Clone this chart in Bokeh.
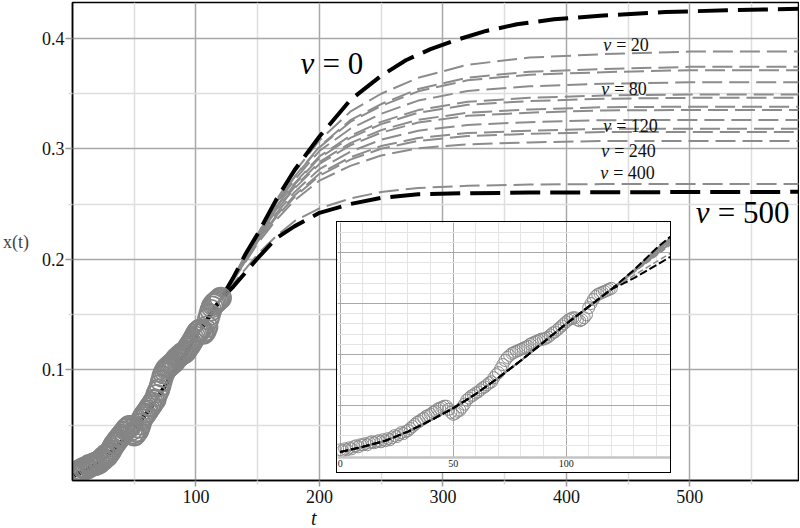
from bokeh.plotting import figure
from bokeh.models import FixedTicker, GridBox, Range1d, ColumnDataSource, Div, Column
from bokeh.core.properties import value
from bokeh.embed import file_html
from bokeh.resources import INLINE

# ---------------- data ----------------
# observations x(t), t = 0..120
OBS_T = list(range(121))
OBS_X = [
    0.006, 0.005, 0.007, 0.006, 0.008, 0.007, 0.009, 0.010, 0.009, 0.011,
    0.011, 0.012, 0.011, 0.013, 0.014, 0.013, 0.014, 0.015, 0.014, 0.016,
    0.015, 0.017, 0.016, 0.018, 0.020, 0.019, 0.021, 0.023, 0.022, 0.024,
    0.025, 0.027, 0.029, 0.031, 0.033, 0.034, 0.036, 0.037, 0.039, 0.040,
    0.041, 0.043, 0.044, 0.046, 0.047, 0.048, 0.049, 0.049, 0.046, 0.043,
    0.041, 0.042, 0.044, 0.045, 0.048, 0.051, 0.055, 0.057, 0.059, 0.060,
    0.062, 0.063, 0.065, 0.067, 0.068, 0.070, 0.072, 0.073, 0.077, 0.080,
    0.082, 0.086, 0.090, 0.094, 0.097, 0.099, 0.101, 0.102, 0.103, 0.104,
    0.105, 0.106, 0.107, 0.108, 0.110, 0.111, 0.112, 0.113, 0.114, 0.115,
    0.115, 0.116, 0.117, 0.119, 0.121, 0.122, 0.124, 0.126, 0.128, 0.130,
    0.132, 0.134, 0.135, 0.136, 0.136, 0.134, 0.133, 0.134, 0.136, 0.139,
    0.146, 0.150, 0.154, 0.157, 0.159, 0.160, 0.161, 0.162, 0.163, 0.164,
    0.165,
]

# fitted part, common to all curves
FIT_T = [0, 10, 20, 30, 40, 50, 60, 70, 80, 90, 100, 110, 120]
FIT_X = [0.004, 0.009, 0.015, 0.024, 0.035, 0.047, 0.061, 0.077, 0.094,
         0.112, 0.130, 0.147, 0.164]

# prediction for nu = 0 after t = 120 (read more densely: strongest bend)
PRED_T_NU0 = [130, 140, 150, 165, 180, 200, 225, 250, 270, 290, 310, 335,
              360, 390, 430, 480, 530, 590]
X_NU0 = [0.1830, 0.2045, 0.2230, 0.2540, 0.2810, 0.3110, 0.3440, 0.3660,
         0.3800, 0.3900, 0.3980, 0.4065, 0.4125, 0.4170, 0.4205, 0.4235,
         0.4252, 0.4265]

# predictions for the other nu after t = 120
PRED_T = [130, 140, 150, 165, 180, 200, 225, 250, 280, 320, 370, 430, 500, 590]
X_NU20 = [0.1828, 0.2040, 0.2225, 0.2535, 0.2790, 0.3075, 0.3335, 0.3497,
          0.3641, 0.3759, 0.3824, 0.3855, 0.3878, 0.3880]
X_NU40 = [0.1828, 0.2032, 0.2222, 0.2514, 0.2749, 0.3019, 0.3258, 0.3404,
          0.3539, 0.3643, 0.3696, 0.3720, 0.3740, 0.3740]
X_NU60 = [0.1827, 0.2030, 0.2220, 0.2512, 0.2744, 0.3012, 0.3242, 0.3387,
          0.3519, 0.3619, 0.3668, 0.3692, 0.3710, 0.3710]
X_NU80 = [0.1826, 0.2027, 0.2218, 0.2498, 0.2720, 0.2980, 0.3181, 0.3316,
          0.3435, 0.3522, 0.3564, 0.3587, 0.3600, 0.3600]
X_NU100 = [0.1826, 0.2018, 0.2212, 0.2477, 0.2689, 0.2931, 0.3117, 0.3243,
           0.3349, 0.3424, 0.3460, 0.3481, 0.3490, 0.3490]
X_NU120 = [0.1825, 0.2016, 0.2208, 0.2469, 0.2679, 0.2917, 0.3098, 0.3222,
           0.3325, 0.3397, 0.3431, 0.3452, 0.3460, 0.3460]
X_NU140 = [0.1824, 0.2009, 0.2200, 0.2450, 0.2655, 0.2879, 0.3051, 0.3168,
           0.3262, 0.3325, 0.3355, 0.3375, 0.3380, 0.3380]
X_NU160 = [0.1823, 0.2005, 0.2194, 0.2441, 0.2643, 0.2862, 0.3031, 0.3145,
           0.3237, 0.3297, 0.3326, 0.3346, 0.3350, 0.3350]
X_NU180 = [0.1818, 0.1995, 0.2180, 0.2415, 0.2609, 0.2815, 0.2973, 0.3081,
           0.3163, 0.3215, 0.3240, 0.3258, 0.3260, 0.3260]
X_NU200 = [0.1815, 0.1987, 0.2168, 0.2393, 0.2580, 0.2774, 0.2922, 0.3024,
           0.3097, 0.3142, 0.3163, 0.3180, 0.3180, 0.3180]
X_NU240 = [0.1812, 0.1982, 0.2161, 0.2382, 0.2566, 0.2756, 0.2901, 0.3000,
           0.3071, 0.3114, 0.3134, 0.3150, 0.3150, 0.3150]
X_NU320 = [0.1808, 0.1973, 0.2145, 0.2357, 0.2534, 0.2712, 0.2845, 0.2939,
           0.3004, 0.3040, 0.3057, 0.3070, 0.3070, 0.3070]
X_NU400 = [0.1778, 0.1912, 0.2046, 0.2210, 0.2347, 0.2461, 0.2550, 0.2609,
           0.2645, 0.2664, 0.2676, 0.2680, 0.2680, 0.2680]
X_NU500 = [0.1750, 0.1880, 0.2010, 0.2190, 0.2300, 0.2420, 0.2500, 0.2555,
           0.2588, 0.2598, 0.2603, 0.2606, 0.2608, 0.2610]

GREY_CURVES = [X_NU20, X_NU40, X_NU60, X_NU80, X_NU100, X_NU120, X_NU140,
               X_NU160, X_NU180, X_NU200, X_NU240, X_NU320, X_NU400]

# axis ticks
X_TICKS = [100, 200, 300, 400, 500]
X_MINOR = [50, 150, 250, 350, 450, 550]
Y_TICKS = [0.1, 0.2, 0.3, 0.4]
Y_MINOR = [0.05, 0.15, 0.25, 0.35]
IN_X_TICKS = [0, 50, 100]
IN_X_MINOR = [10, 20, 30, 40, 60, 70, 80, 90, 110, 120, 130, 140]
IN_Y_TICKS = [0.05, 0.10, 0.15, 0.20]
IN_Y_MINOR = [0.01, 0.02, 0.03, 0.04, 0.06, 0.07, 0.08, 0.09, 0.11, 0.12,
              0.13, 0.14, 0.16, 0.17, 0.18, 0.19, 0.21, 0.22]

# curve labels
SMALL_LABEL_T = [429.8, 428.2, 429.8, 428.2, 427.4]
SMALL_LABEL_X = [0.394, 0.354, 0.3205, 0.2975, 0.2776]
SMALL_LABEL_TEXT = ["= 20", "= 80", "= 120", "= 240", "= 400"]
BIG_LABEL_T = [184.7, 504.8]
BIG_LABEL_X = [0.377, 0.2423]
BIG_LABEL_TEXT = ["= 0", "= 500"]

SERIF = "Liberation Serif"
curve_t = FIT_T + PRED_T
curve_t0 = FIT_T + PRED_T_NU0


def draw_curves(fig, grey_w, grey_dash, grey_step, black_w, black_dash):
    for i, xs in enumerate(GREY_CURVES):
        fig.line(curve_t, FIT_X + xs, line_color="#8c8c8c", line_width=grey_w,
                 line_dash=grey_dash, line_dash_offset=(i * grey_step) % (3 * grey_step))
    fig.line(curve_t0, FIT_X + X_NU0, line_color="black", line_width=black_w,
             line_dash=black_dash)
    fig.line(curve_t, FIT_X + X_NU500, line_color="black", line_width=black_w,
             line_dash=black_dash)


# ---------------- main figure ----------------
p = figure(width=799, height=526, output_backend="svg", toolbar_location=None,
           x_range=Range1d(0, 588), y_range=Range1d(0, 0.4322),
           min_border_left=69, min_border_right=1, min_border_top=2,
           min_border_bottom=46)
p.background_fill_color = "white"
p.border_fill_color = "white"
p.outline_line_color = "black"
p.outline_line_width = 1.5

p.xaxis.ticker = FixedTicker(ticks=X_TICKS, minor_ticks=X_MINOR)
p.yaxis.ticker = FixedTicker(ticks=Y_TICKS, minor_ticks=Y_MINOR)
for ax in (p.xaxis[0], p.yaxis[0]):
    ax.axis_line_color = "black"
    ax.axis_line_width = 1.5
    ax.major_tick_line_color = "#9a9a9a"
    ax.major_tick_line_width = 1.5
    ax.major_tick_in = 0
    ax.minor_tick_line_color = "#d8d8d8"
    ax.minor_tick_line_width = 1.5
    ax.minor_tick_in = 0
    ax.major_label_text_font = SERIF
    ax.major_label_text_font_size = "18px"
    ax.major_label_text_color = "#111111"
p.xaxis.major_tick_out = 6
p.xaxis.minor_tick_out = 4
p.xaxis.major_label_standoff = 3
p.yaxis.major_tick_out = 7
p.yaxis.minor_tick_out = 4
p.yaxis.major_label_standoff = 1
p.yaxis.axis_label = "x(t)"
p.yaxis.axis_label_orientation = "horizontal"
p.yaxis.axis_label_text_font = SERIF
p.yaxis.axis_label_text_font_style = "normal"
p.yaxis.axis_label_text_font_size = "18px"
p.yaxis.axis_label_standoff = 10

p.xgrid.grid_line_color = "#a8a8a8"
p.ygrid.grid_line_color = "#a8a8a8"
p.xgrid.grid_line_width = 1.5
p.ygrid.grid_line_width = 1.5
p.xgrid.minor_grid_line_color = "#dedede"
p.ygrid.minor_grid_line_color = "#dedede"
p.xgrid.minor_grid_line_width = 1.5
p.ygrid.minor_grid_line_width = 1.5

draw_curves(p, 2, "20 7", 9, 4, "30 10")

p.scatter(OBS_T, OBS_X, marker="circle", size=21, fill_color=None,
          line_color="#858585", line_width=1.6)

small_src = ColumnDataSource(dict(t=SMALL_LABEL_T, x=SMALL_LABEL_X,
                                  nu=["ν"] * len(SMALL_LABEL_T),
                                  txt=SMALL_LABEL_TEXT))
p.text(x="t", y="x", text="nu", source=small_src, text_font=value(SERIF),
       text_font_style="italic", text_font_size="18px", text_align="left",
       text_baseline="middle", text_color="#111111")
p.text(x="t", y="x", text="txt", source=small_src, text_font=value(SERIF),
       text_font_size="18px", text_align="left", text_baseline="middle",
       x_offset=13, text_color="#111111")

big_src = ColumnDataSource(dict(t=BIG_LABEL_T, x=BIG_LABEL_X,
                                nu=["ν"] * len(BIG_LABEL_T),
                                txt=BIG_LABEL_TEXT))
p.text(x="t", y="x", text="nu", source=big_src, text_font=value(SERIF),
       text_font_style="italic", text_font_size="31px", text_align="left",
       text_baseline="middle", text_color="black")
p.text(x="t", y="x", text="txt", source=big_src, text_font=value(SERIF),
       text_font_size="31px", text_align="left", text_baseline="middle",
       x_offset=22, text_color="black")

# ---------------- inset ----------------
inset = figure(width=333, height=250, output_backend="svg",
               toolbar_location=None, y_axis_location=None,
               x_range=Range1d(-1.2, 146.2), y_range=Range1d(-0.0015, 0.2298),
               min_border_left=0, min_border_right=0, min_border_top=0,
               min_border_bottom=15,
               styles={"outline": "1.5px solid black"})
inset.background_fill_color = "white"
inset.border_fill_color = "white"
inset.outline_line_color = None
inset.xaxis.ticker = FixedTicker(ticks=IN_X_TICKS, minor_ticks=IN_X_MINOR)
inset.ygrid[0].ticker = FixedTicker(ticks=IN_Y_TICKS, minor_ticks=IN_Y_MINOR)
inset.xaxis.axis_line_color = "#c4c4c4"
inset.xaxis.axis_line_width = 2.5
inset.xaxis.major_tick_line_color = None
inset.xaxis.minor_tick_line_color = None
inset.xaxis.major_tick_out = 0
inset.xaxis.minor_tick_out = 0
inset.xaxis.major_label_standoff = 2
inset.xaxis.major_label_text_font = SERIF
inset.xaxis.major_label_text_font_size = "10px"
inset.xaxis.major_label_text_color = "#222222"
inset.xgrid.grid_line_color = "#a8a8a8"
inset.ygrid.grid_line_color = "#a8a8a8"
inset.xgrid.minor_grid_line_color = "#e4e4e4"
inset.ygrid.minor_grid_line_color = "#e4e4e4"

inset.scatter(OBS_T, OBS_X, marker="circle", size=12, fill_color=None,
              line_color="#8a8a8a", line_width=1)
draw_curves(inset, 1.5, "6 3", 3, 2, "8 3")

# wrap the inset so that the outer grid does not align its frame with p
inset_box = Column(children=[inset], margin=(222, 0, 0, 337))

# x-axis title "t", placed under the 200 tick as in the reference
t_label = Div(text="t", width=20, height=24, margin=(506, 0, 0, 311),
              styles={"font-family": SERIF, "font-style": "italic",
                      "font-size": "20px", "color": "#111111",
                      "line-height": "24px"})

layout = GridBox(children=[(p, 0, 0), (inset_box, 0, 0), (t_label, 0, 0)])

open("out.html", "w").write(file_html(layout, INLINE))
